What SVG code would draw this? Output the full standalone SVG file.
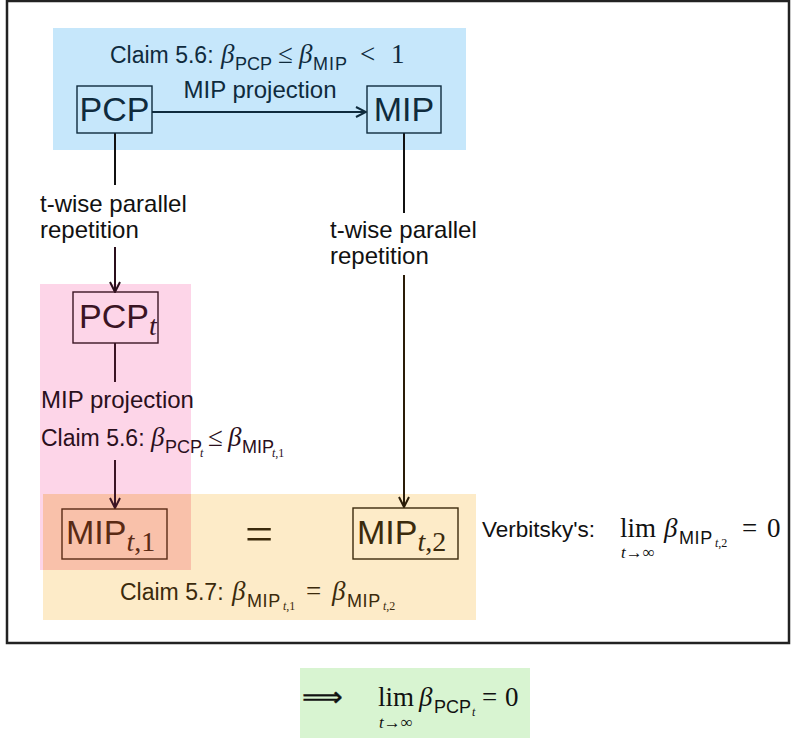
<svg xmlns="http://www.w3.org/2000/svg" width="796" height="742" viewBox="0 0 796 742">
  <defs>
    <marker id="arrow" viewBox="0 0 12 12" refX="11" refY="6" markerWidth="12" markerHeight="12" markerUnits="userSpaceOnUse" orient="auto">
      <path d="M1,1 L11,6 L1,11" fill="none" stroke="context-stroke" stroke-width="2"/>
    </marker>
    <style>
      .sans { font-family: "Liberation Sans", Arial, sans-serif; }
      .serif { font-family: "Liberation Serif", "Times New Roman", serif; }
      .it { font-style: italic; }
      .lbl { font-size: 24px; }
      .claim { font-family: "Liberation Sans", Arial, sans-serif; font-size: 23px; }
      .node { font-size: 34px; }
      .beta { font-family: "Liberation Serif", serif; font-style: italic; font-size: 27px; }
      .rel { font-family: "Liberation Serif", serif; font-style: normal; font-size: 27px; }
      .sub { font-family: "Liberation Sans", Arial, sans-serif; font-style: normal; font-size: 18px; }
      .subsub { font-family: "Liberation Serif", serif; font-size: 12px; }
      .box { fill: none; stroke-width: 1.4; }
      .wire { fill: none; stroke-width: 2; }
    </style>
  </defs>

  <rect width="796" height="742" fill="#ffffff"/>

  <!-- outer frame -->
  <rect x="7" y="1" width="782" height="642" fill="none" stroke="#222222" stroke-width="2.5"/>

  <!-- shaded regions -->
  <rect x="53" y="28" width="413" height="122" fill="#c6e7fb"/>
  <rect x="40" y="284" width="151" height="286" fill="#fdd5e8"/>
  <rect x="43" y="494" width="433" height="126" fill="#fdebc8"/>
  <rect x="43" y="494" width="148" height="76" fill="#f9c1aa"/>
  <rect x="300" y="668" width="230" height="70" fill="#d8f4d1"/>

  <!-- connectors -->
  <g id="connectors">
    <line class="wire" x1="152" y1="112" x2="366" y2="112" stroke="#0f2b3d" marker-end="url(#arrow)"/>
    <line class="wire" x1="115" y1="133" x2="115" y2="185" stroke="#111111"/>
    <line class="wire" x1="115" y1="247" x2="115" y2="292" stroke="#2a0f1c" marker-end="url(#arrow)"/>
    <line class="wire" x1="115" y1="343" x2="115" y2="382" stroke="#3a1424"/>
    <line class="wire" x1="115" y1="460" x2="115" y2="508" stroke="#3a1424" marker-end="url(#arrow)"/>
    <line class="wire" x1="404" y1="133" x2="404" y2="213" stroke="#111111"/>
    <line class="wire" x1="404" y1="275" x2="404" y2="507" stroke="#2a1c08" marker-end="url(#arrow)"/>
  </g>

  <!-- top claim -->
  <g id="claim-top" fill="#0f2b3d">
    <text class="claim" x="110" y="63">Claim 5.6:<tspan class="beta" x="221" y="63">β</tspan><tspan class="sub" x="235" y="70">PCP</tspan><tspan class="rel" x="278" y="63">≤</tspan><tspan class="beta" x="299" y="63">β</tspan><tspan class="sub" x="313" y="70" font-size="19" letter-spacing="1">MIP</tspan><tspan class="rel" x="360" y="63">&lt;</tspan><tspan class="rel" x="391" y="63">1</tspan></text>
    <text class="sans lbl" x="260" y="98" text-anchor="middle">MIP projection</text>
  </g>

  <g id="node-pcp">
    <rect class="box" x="77" y="86" width="75" height="47" stroke="#0f2b3d"/>
    <text x="114.5" y="121" text-anchor="middle" class="sans node" fill="#0f2b3d">PCP</text>
  </g>

  <g id="node-mip">
    <rect class="box" x="367" y="86" width="74" height="47" stroke="#0f2b3d"/>
    <text x="404" y="121" text-anchor="middle" class="sans node" fill="#0f2b3d">MIP</text>
  </g>

  <!-- left repetition label -->
  <g id="label-rep-left" fill="#111111">
    <text x="40" y="212" class="sans lbl">t-wise parallel</text>
    <text x="40" y="238" class="sans lbl">repetition</text>
  </g>

  <!-- right repetition label -->
  <g id="label-rep-right" fill="#111111">
    <text x="330" y="238" class="sans lbl">t-wise parallel</text>
    <text x="330" y="264" class="sans lbl">repetition</text>
  </g>

  <g id="node-pcp-t">
    <rect class="box" x="73" y="292" width="85" height="51" stroke="#3a1424"/>
    <text x="79" y="328" class="sans node" fill="#3a1424">PCP<tspan class="serif it" font-size="28" dy="7">t</tspan></text>
  </g>

  <!-- middle-left claim -->
  <g id="claim-left" fill="#2a0f1c">
    <text x="41" y="408" class="sans lbl">MIP projection</text>
    <text class="claim" x="41" y="446">Claim 5.6:<tspan class="beta" x="151" y="446">β</tspan><tspan class="sub" x="165" y="453" font-size="15">PCP</tspan><tspan class="subsub it" x="200" y="457" font-size="11">t</tspan><tspan class="rel" x="208" y="446">≤</tspan><tspan class="beta" x="228" y="446">β</tspan><tspan class="sub" x="242" y="453" font-size="15.5">MIP</tspan><tspan class="subsub it" x="272" y="457" font-size="11">t</tspan><tspan class="subsub" font-size="11">,1</tspan></text>
  </g>

  <g id="node-mip-t1">
    <rect class="box" x="62" y="509" width="105" height="50" stroke="#5a2a14"/>
    <text x="66" y="544" class="sans node" fill="#5a2a14">MIP<tspan class="serif it" font-size="28" dy="7">t</tspan><tspan class="serif" font-size="28">,1</tspan></text>
  </g>

  <g id="node-mip-t2">
    <rect class="box" x="353" y="508" width="105" height="51" stroke="#3b2a0c"/>
    <text x="357" y="544" class="sans node" fill="#3b2a0c">MIP<tspan class="serif it" font-size="28" dy="7">t</tspan><tspan class="serif" font-size="28">,2</tspan></text>
  </g>

  <!-- equality between the two MIP nodes -->
  <text x="259" y="551" text-anchor="middle" class="serif" font-size="50" fill="#3b2a0c">=</text>

  <!-- bottom claim -->
  <g id="claim-bottom" fill="#3b2a0c">
    <text class="claim" x="120" y="600">Claim 5.7:<tspan class="beta" x="232" y="600">β</tspan><tspan class="sub" x="247" y="607" font-size="19" letter-spacing="0.6">MIP</tspan><tspan class="subsub it" x="283" y="610">t</tspan><tspan class="subsub">,1</tspan><tspan class="rel" x="306" y="600">=</tspan><tspan class="beta" x="332" y="600">β</tspan><tspan class="sub" x="347" y="607" font-size="19" letter-spacing="0.6">MIP</tspan><tspan class="subsub it" x="383" y="610">t</tspan><tspan class="subsub">,2</tspan></text>
  </g>

  <!-- Verbitsky limit -->
  <g id="verbitsky" fill="#111111">
    <text x="482" y="537" class="sans" font-size="22.5">Verbitsky's:</text>
    <text class="rel" x="620" y="537">lim<tspan class="beta" x="664" y="537">β</tspan><tspan class="sub" x="679" y="544" font-size="19" letter-spacing="0.6">MIP</tspan><tspan class="subsub it" x="715" y="547">t</tspan><tspan class="subsub">,2</tspan><tspan class="rel" x="742" y="537">=</tspan><tspan class="rel" x="767" y="537">0</tspan></text>
    <text x="638" y="558" text-anchor="middle" class="serif" font-size="17"><tspan class="it">t</tspan>→∞</text>
  </g>

  <!-- conclusion -->
  <g id="conclusion" fill="#111111">
    <text class="rel" x="302" y="706" font-size="30" stroke="#111111" stroke-width="0.4" textLength="41" lengthAdjust="spacingAndGlyphs">⟹</text>
    <text class="rel" x="378" y="706">lim<tspan class="beta" x="419" y="706">β</tspan><tspan class="sub" x="434" y="713">PCP</tspan><tspan class="subsub it" x="472" y="716">t</tspan><tspan class="rel" x="482" y="706">=</tspan><tspan class="rel" x="505" y="706">0</tspan></text>
    <text x="396" y="728" text-anchor="middle" class="serif" font-size="17"><tspan class="it">t</tspan>→∞</text>
  </g>
</svg>
